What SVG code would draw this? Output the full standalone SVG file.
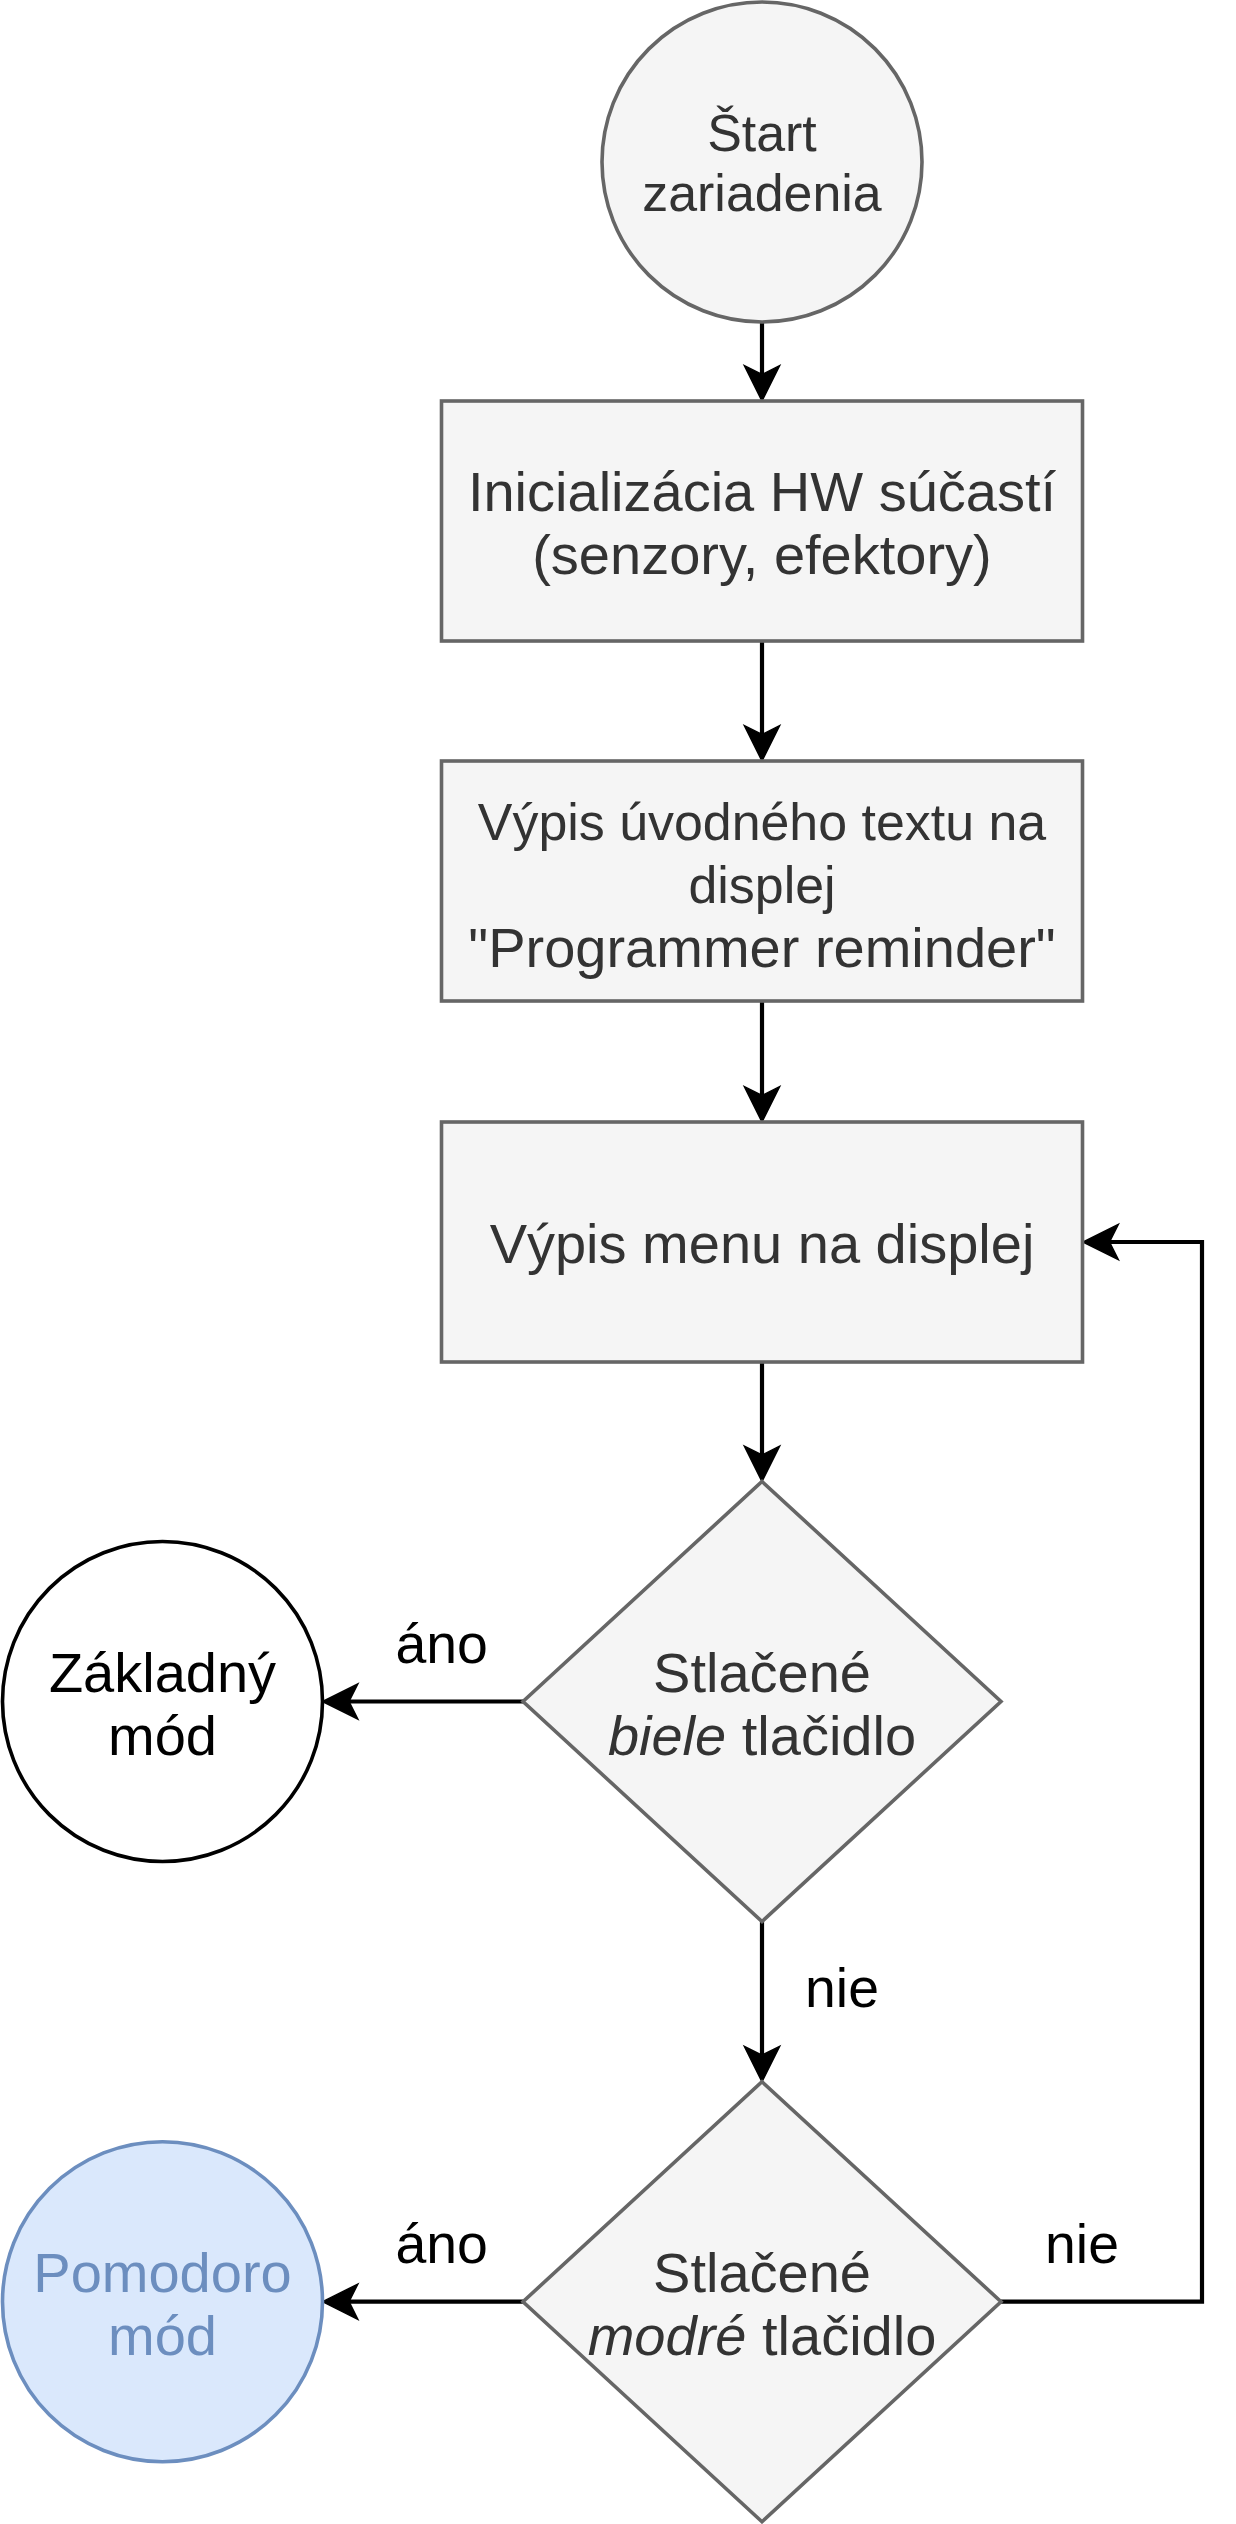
<svg xmlns="http://www.w3.org/2000/svg" width="1236" height="2524" viewBox="0 0 1236 2524">
<style>
  .gray { fill: #f5f5f5; stroke: #666666; stroke-width: 3.6; }
  .t { font-family: "Liberation Sans", Arial, Helvetica, sans-serif; text-anchor: middle; }
  .big { font-size: 56px; }
  .small { font-size: 51.9px; }
  .dark { fill: #333333; }
  .edge { fill: none; stroke: #000000; stroke-width: 4.2; }
  .lbl { fill: #000000; font-size: 55.4px; }
</style>
<defs>
  <marker id="arrow" markerUnits="userSpaceOnUse" orient="auto" overflow="visible" refX="0" refY="0" markerWidth="40" markerHeight="40">
    <path d="M26.5,0 L-8.8,-17.6 L0,0 L-8.8,17.6 Z" fill="#000000" stroke="#000000" stroke-width="1.5" stroke-linejoin="miter"/>
  </marker>
</defs>
<rect width="1236" height="2524" fill="#ffffff"/>

<g id="connectors">
  <path class="edge" d="M762,322 L762,374.5" marker-end="url(#arrow)"/>
  <path class="edge" d="M762,641 L762,734.5" marker-end="url(#arrow)"/>
  <path class="edge" d="M762,1001 L762,1095.5" marker-end="url(#arrow)"/>
  <path class="edge" d="M762,1362 L762,1455" marker-end="url(#arrow)"/>
  <path class="edge" d="M762,1921.5 L762,2055.2" marker-end="url(#arrow)"/>
  <path class="edge" d="M523,1701.5 L349,1701.5" marker-end="url(#arrow)"/>
  <path class="edge" d="M523,2301.7 L349,2301.7" marker-end="url(#arrow)"/>
  <path class="edge" d="M1001,2301.7 L1202,2301.7 L1202,1242 L1109.5,1242" marker-end="url(#arrow)"/>
  <text class="t lbl" x="441.7" y="1663.3">áno</text>
  <text class="t lbl" x="842" y="2006.5">nie</text>
  <text class="t lbl" x="441.7" y="2263">áno</text>
  <text class="t lbl" x="1082" y="2263">nie</text>
</g>

<g id="start">
  <circle class="gray" cx="762" cy="162" r="160"/>
  <text class="t small dark" x="762" y="151">Štart</text>
  <text class="t small dark" x="762" y="211">zariadenia</text>
</g>

<g id="init">
  <rect class="gray" x="441.5" y="401" width="641" height="240"/>
  <text class="t big dark" x="762" y="511">Inicializácia HW súčastí</text>
  <text class="t big dark" x="762" y="573.6">(senzory, efektory)</text>
</g>

<g id="intro">
  <rect class="gray" x="441.5" y="761" width="641" height="240"/>
  <text class="t small dark" x="762" y="840">Výpis úvodného textu na</text>
  <text class="t small dark" x="762" y="902.7">displej</text>
  <text class="t big dark" x="762" y="966.7">"Programmer reminder"</text>
</g>

<g id="menu">
  <rect class="gray" x="441.5" y="1122" width="641" height="240"/>
  <text class="t big dark" x="762" y="1262.5">Výpis menu na displej</text>
</g>

<g id="white-button">
  <polygon class="gray" points="762,1481.5 1001,1701.5 762,1921.5 523,1701.5"/>
  <text class="t big dark" x="762" y="1691.7">Stlačené</text>
  <text class="t big dark" x="762" y="1755"><tspan font-style="italic">biele</tspan> tlačidlo</text>
</g>

<g id="basic-mode">
  <circle cx="162.5" cy="1701.5" r="160" fill="#ffffff" stroke="#000000" stroke-width="3.6"/>
  <text class="t big" fill="#000000" x="162.5" y="1691.7">Základný</text>
  <text class="t big" fill="#000000" x="162.5" y="1755">mód</text>
</g>

<g id="blue-button">
  <polygon class="gray" points="762,2081.7 1001,2301.7 762,2521.7 523,2301.7"/>
  <text class="t big dark" x="762" y="2291.7">Stlačené</text>
  <text class="t big dark" x="762" y="2355"><tspan font-style="italic">modré</tspan> tlačidlo</text>
</g>

<g id="pomodoro-mode">
  <circle cx="162.5" cy="2301.7" r="160" fill="#dae8fc" stroke="#6c8ebf" stroke-width="3.6"/>
  <text class="t big" fill="#6c8ebf" x="162.5" y="2291.7">Pomodoro</text>
  <text class="t big" fill="#6c8ebf" x="162.5" y="2355">mód</text>
</g>
</svg>
